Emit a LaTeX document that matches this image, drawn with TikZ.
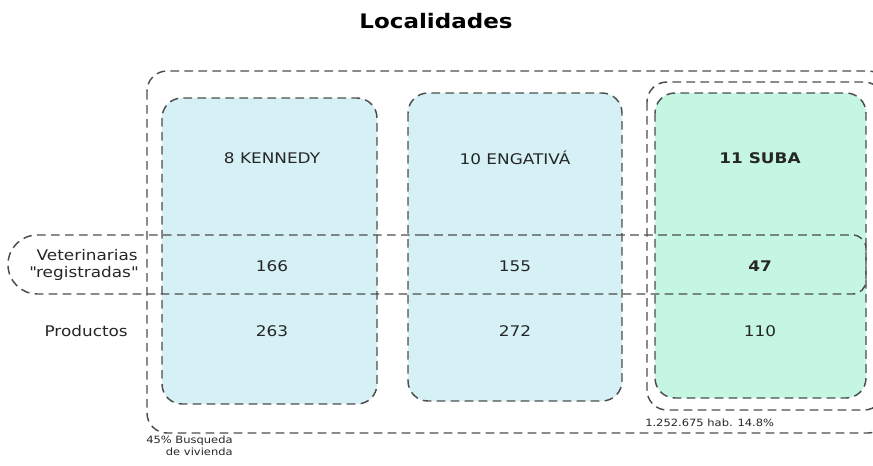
\documentclass[tikz,border=0pt]{standalone}
\usepackage{fontspec}
\setmainfont{DejaVu Sans}[FakeStretch=1.15]
\definecolor{lineGray}{HTML}{4D4D4D}
\definecolor{boxBlue}{HTML}{D5F1F6}
\definecolor{boxGreen}{HTML}{C4F6E2}
\tikzset{
  dashbox/.style={draw=lineGray, line width=1.1pt, dash pattern=on 6.5pt off 4pt},
  cell/.style={font=\fontsize{11}{13}\selectfont, text=black!85},
  small/.style={font=\fontsize{7.5}{8.5}\selectfont, text=black!85, inner sep=0pt}
}
\begin{document}
\begin{tikzpicture}[x=0.75pt,y=-0.75pt]
  \useasboundingbox (0,0) rectangle (873,465);
  \clip (0,0) rectangle (873,465);
  \node (title) at (436,21) {\fontsize{15}{17}\selectfont\bfseries Localidades};
  % frames
  \draw[dashbox, rounded corners=15pt] (147,71) rectangle (888,433);
  \draw[dashbox, fill=boxBlue, rounded corners=15pt] (162,98) rectangle (377,404);
  \draw[dashbox, fill=boxBlue, rounded corners=15pt] (408,93) rectangle (622,401);
  \draw[dashbox, rounded corners=15pt] (647,82) rectangle (884,410);
  \draw[dashbox, fill=boxGreen, rounded corners=15pt] (655,93) rectangle (866,398);
  \draw[dashbox] (437,235) [rounded corners=22pt] -- (8,235) -- (8,294) -- (437,294)
    [rounded corners=10pt] -- (866,294) -- (866,235) -- cycle;
  % headers
  \node[cell] (kennedy) at (272,158) {8 KENNEDY};
  \node[cell] (engativa) at (515,158) {10 ENGATIVÁ};
  \node[cell] (suba) at (760,158) {\bfseries 11 SUBA};
  % rows
  \node[cell, anchor=east, align=right, inner sep=0pt] (vet) at (138,265) {Veterinarias\\\textquotedbl registradas\textquotedbl};
  \node[cell, anchor=east, inner sep=0pt] (prod) at (128,331) {Productos};
  \node[cell] (vetK) at (272,266) {166};
  \node[cell] (vetE) at (515,266) {155};
  \node[cell] (vetS) at (760,266) {\bfseries 47};
  \node[cell] (prodK) at (272,331) {263};
  \node[cell] (prodE) at (515,331) {272};
  \node[cell] (prodS) at (760,331) {110};
  % notes
  \node[small, anchor=west] (hab) at (645,423) {1.252.675 hab. 14.8\%};
  \node[small, anchor=north west, align=right] (busq) at (146,436) {45\% Busqueda\\de vivienda};
\end{tikzpicture}
\end{document}
